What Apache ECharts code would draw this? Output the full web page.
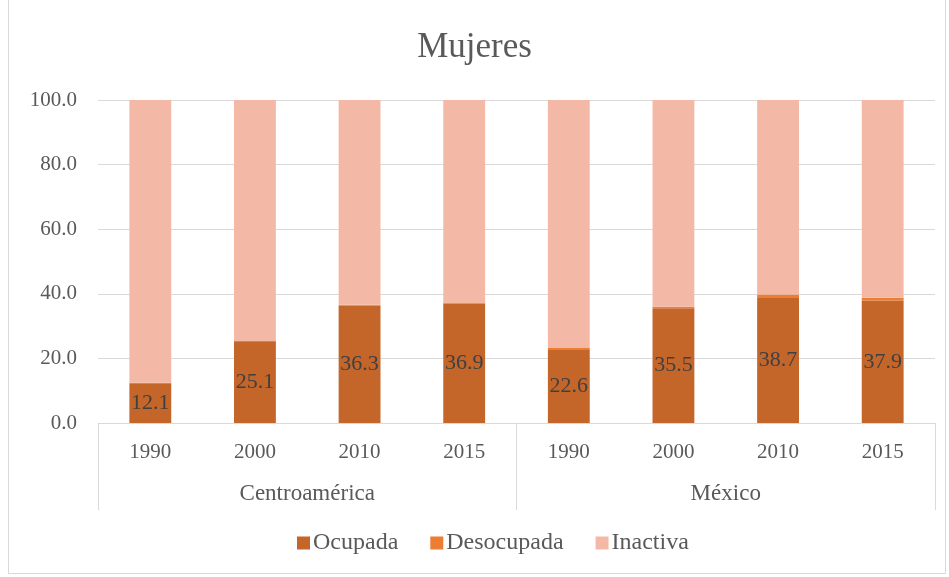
<!DOCTYPE html>
<html>
<head>
<meta charset="utf-8">
<script src="https://cdn.jsdelivr.net/npm/echarts@6/dist/echarts.min.js"></script>
<style>
  html, body { margin: 0; padding: 0; background: #fff; }
  #frame { position: absolute; left: 8px; top: -2px; width: 938px; height: 576px; border: 1px solid #d9d9d9; box-sizing: border-box; }
  #main { position: absolute; left: 0; top: 0; width: 949px; height: 577px; }
</style>
</head>
<body>
<div id="frame"></div>
<div id="main"></div>
<script>
  var years = ['1990', '2000', '2010', '2015', '1990', '2000', '2010', '2015']
  var groups = ['Centroamérica', 'México']
  var ocupada = [12.1, 25.1, 36.3, 36.9, 22.6, 35.5, 38.7, 37.9]
  var desocupada = [0.4, 0.3, 0.3, 0.4, 0.6, 0.5, 1.1, 0.9]
  var inactiva = [87.5, 74.6, 63.4, 62.7, 76.8, 64.0, 60.2, 61.2]

  var serif = '"Liberation Serif", "DejaVu Serif", serif'
  var myChart = echarts.init(document.getElementById('main'))
  var option = {
    animation: false,
    title: {
      text: 'Mujeres',
      left: 'center',
      top: 25,
      textStyle: { fontFamily: serif, fontSize: 35, fontWeight: 'normal', color: '#595959' }
    },
    legend: {
      bottom: 17,
      left: 292,
      itemWidth: 13,
      itemHeight: 13,
      itemGap: 32,
      icon: 'rect',
      textStyle: { fontFamily: serif, fontSize: 24, color: '#595959', padding: [0, 0, 0, -2] },
      data: ['Ocupada', 'Desocupada', 'Inactiva']
    },
    grid: { left: 98, right: 14, top: 100, bottom: 154 },
    xAxis: [{
      type: 'category',
      data: years,
      position: 'bottom',
      axisLine: { lineStyle: { color: '#d9d9d9' } },
      axisTick: { show: false },
      axisLabel: { fontFamily: serif, fontSize: 21, color: '#595959', margin: 19 }
    }, {
      type: 'category',
      data: groups,
      position: 'bottom',
      axisLine: { show: false },
      axisTick: { show: true, length: 87, lineStyle: { color: '#d9d9d9' } },
      axisLabel: { fontFamily: serif, fontSize: 23, color: '#595959', margin: 59 }
    }],
    yAxis: {
      type: 'value',
      min: 0,
      max: 100,
      interval: 20,
      axisLabel: {
        fontFamily: serif, fontSize: 21, color: '#595959', margin: 21,
        formatter: function (v) { return v.toFixed(1) }
      },
      splitLine: { lineStyle: { color: '#d9d9d9', width: 1 } },
      axisLine: { show: false },
      axisTick: { show: false }
    },
    series: [{
      name: 'Ocupada',
      type: 'bar',
      stack: 'total',
      barWidth: '40%',
      data: ocupada,
      itemStyle: { color: '#c4652a' },
      label: {
        show: true,
        position: 'inside',
        fontFamily: serif,
        fontSize: 22,
        color: '#404040',
        formatter: function (p) { return p.value.toFixed(1) }
      }
    }, {
      name: 'Desocupada',
      type: 'bar',
      stack: 'total',
      data: desocupada,
      itemStyle: { color: '#ed7d31' }
    }, {
      name: 'Inactiva',
      type: 'bar',
      stack: 'total',
      data: inactiva,
      itemStyle: { color: '#f4b9a6' }
    }]
  }
  myChart.setOption(option)
</script>
</body>
</html>
